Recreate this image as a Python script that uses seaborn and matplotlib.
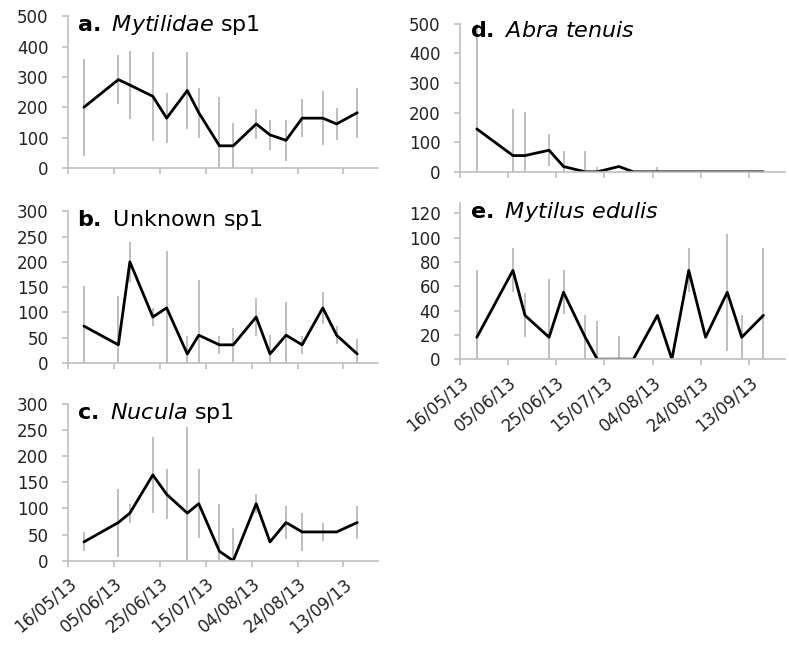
import pandas as pd
import matplotlib
matplotlib.use('Agg')
import matplotlib.pyplot as plt
import matplotlib.dates as mdates
import seaborn as sns

# sampling dates (same for every species)
dates = pd.to_datetime(['2013-05-23', '2013-06-07', '2013-06-12', '2013-06-22',
                        '2013-06-28', '2013-07-07', '2013-07-12', '2013-07-21',
                        '2013-07-27', '2013-08-06', '2013-08-12', '2013-08-19',
                        '2013-08-26', '2013-09-04', '2013-09-10', '2013-09-19'])

# mean abundance and error
a_mean = [200, 291, 273, 236, 164, 255, 182, 73, 73, 145, 109, 91, 164, 164, 145, 182]
a_err = [160, 80, 111, 147, 82, 128, 83, 161, 76, 48, 49, 67, 62, 90, 53, 82]

b_mean = [73, 36, 200, 91, 109, 18, 55, 36, 36, 91, 18, 55, 36, 109, 55, 18]
b_err = [79, 96, 39, 18, 113, 36, 110, 18, 33, 37, 38, 66, 18, 31, 18, 30]

c_mean = [36, 73, 91, 164, 127, 91, 109, 18, 0, 109, 36, 73, 55, 55, 55, 73]
c_err = [18, 65, 18, 72, 48, 164, 66, 90, 62, 18, 0, 31, 36, 18, 0, 31]

d_mean = [145, 55, 55, 73, 18, 0, 0, 18, 0, 0, 0, 0, 0, 0, 0, 0]
d_err = [420, 158, 147, 54, 54, 72, 16, 0, 0, 16, 0, 0, 0, 0, 0, 0]

e_mean = [18, 73, 36, 18, 55, 18, 0, 0, 0, 36, 0, 73, 18, 55, 18, 36]
e_err = [55, 18, 18, 48, 18, 18, 31, 19, 0, 0, 0, 18, 0, 48, 18, 55]

tick_dates = pd.date_range('2013-05-16', periods=7, freq='20D')

sns.set_style('white')
plt.rcParams['font.family'] = ['DejaVu Sans']
plt.rcParams['mathtext.fontset'] = 'dejavusans'

fig = plt.figure(figsize=(7.89, 6.46), dpi=100)

panels = [
    # mean, err, title, rect, ymax, ystep, labels
    (a_mean, a_err, r'$\mathbf{a.}$ $\mathit{Mytilidae}$ sp1', [0.086, 0.740, 0.393, 0.235], 500, 100, False),
    (b_mean, b_err, r'$\mathbf{b.}$ Unknown sp1', [0.086, 0.438, 0.393, 0.235], 300, 50, False),
    (c_mean, c_err, r'$\mathbf{c.}$ $\mathit{Nucula}$ sp1', [0.086, 0.132, 0.393, 0.243], 300, 50, True),
    (d_mean, d_err, r'$\mathbf{d.}$ $\mathit{Abra\ tenuis}$', [0.583, 0.734, 0.412, 0.229], 500, 100, False),
    (e_mean, e_err, r'$\mathbf{e.}$ $\mathit{Mytilus\ edulis}$', [0.583, 0.444, 0.412, 0.241], 128, 20, True),
]

grey = '#bfbfbf'
for mean, err, title, rect, ymax, ystep, labels in panels:
    ax = fig.add_axes(rect)
    df = pd.DataFrame({'date': dates, 'mean': mean, 'err': err})
    ax.vlines(df['date'], df['mean'] - df['err'], df['mean'] + df['err'],
              color=grey, lw=1.4, zorder=1)
    sns.lineplot(data=df, x='date', y='mean', color='black', lw=2, ax=ax, zorder=2)

    ax.set_xlim(pd.Timestamp('2013-05-16'), pd.Timestamp('2013-09-28'))
    ax.set_ylim(0, ymax)
    ax.set_yticks(range(0, int(ymax) + 1, ystep))
    ax.set_xticks(tick_dates)
    ax.xaxis.set_major_formatter(mdates.DateFormatter('%d/%m/%y'))
    if labels:
        plt.setp(ax.get_xticklabels(), rotation=40, ha='right', rotation_mode='anchor')
    else:
        ax.set_xticklabels([])
    ax.set(xlabel=None, ylabel=None)

    for s in ['top', 'right']:
        ax.spines[s].set_visible(False)
    for s in ['left', 'bottom']:
        ax.spines[s].set_color(grey)
        ax.spines[s].set_linewidth(1.2)
    ax.tick_params(axis='both', which='major', labelsize=12, colors=grey,
                   labelcolor='#222222', length=4, width=1.2, direction='out',
                   bottom=True, left=True)
    ax.tick_params(axis='y', pad=10)
    ax.tick_params(axis='x', pad=6)
    ax.text(0.03, 1.02, title, transform=ax.transAxes, fontsize=16,
            va='top', ha='left', color='black')

fig.savefig('out.png', dpi=100)
